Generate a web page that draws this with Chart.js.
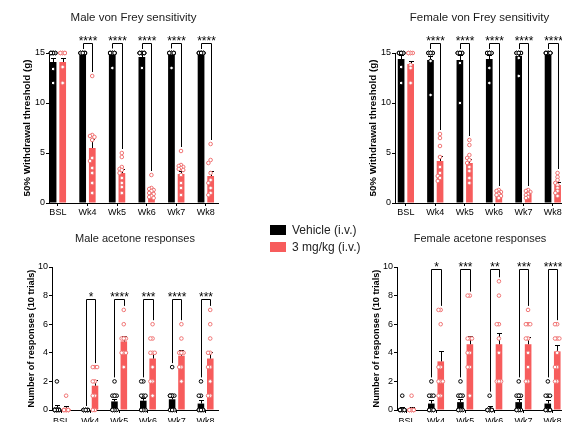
<!DOCTYPE html>
<html>
<head>
<meta charset="utf-8">
<script src="https://cdn.jsdelivr.net/npm/chart.js@4.4.1/dist/chart.umd.min.js"></script>
<style>
  html, body { margin: 0; padding: 0; background: #fff; width: 562px; height: 422px; overflow: hidden; position: relative; }
  .panel { position: absolute; }
  #legend { position: absolute; left: 270px; top: 222px; font: 12px "Liberation Sans", Arial, sans-serif; color: #222; }
  #legend div { height: 16.7px; line-height: 16px; white-space: nowrap; }
  #legend span { display: inline-block; width: 16px; height: 10px; margin-right: 6px; vertical-align: -1px; }
</style>
</head>
<body>
<canvas id="mvf" class="panel" width="230" height="225" style="left:0;top:0"></canvas>
<canvas id="fvf" class="panel" width="230" height="225" style="left:346px;top:0"></canvas>
<canvas id="mac" class="panel" width="230" height="225" style="left:0;top:210px"></canvas>
<canvas id="fac" class="panel" width="230" height="225" style="left:345px;top:210px"></canvas>
<div id="legend"></div>
<script>
const weeks = ['BSL', 'Wk4', 'Wk5', 'Wk6', 'Wk7', 'Wk8'];
const groups = ['Vehicle (i.v.)', '3 mg/kg (i.v.)'];

// Male von Frey sensitivity (g)
const mvfVehMean  = [14.1, 15.0, 14.9, 14.6, 14.9, 15.0];
const mvfVehSem   = [0.4, 0, 0.15, 0.35, 0.15, 0];
const mvfDrugMean = [14.1, 5.5, 3.0, 1.3, 2.9, 2.7];
const mvfDrugSem  = [0.4, 0.9, 0.4, 0.2, 0.35, 0.55];
const mvfVehPts = [
  [15, 15, 15, 15, 15, 15, 15, 15, 13.4, 12.0],
  [15, 15, 15, 15, 15, 15, 15, 15, 15, 15],
  [15, 15, 15, 15, 15, 15, 15, 15, 15, 13.5],
  [15, 15, 15, 15, 15, 15, 15, 15, 15, 13.5],
  [15, 15, 15, 15, 15, 15, 15, 15, 15, 13.5],
  [15, 15, 15, 15, 15, 15, 15, 15, 15, 15]
];
const mvfDrugPts = [
  [15, 15, 15, 15, 15, 15, 13.6, 12.0],
  [12.7, 6.8, 6.7, 6.6, 6.3, 4.5, 4.2, 3.5, 3.0, 2.0, 1.0],
  [5.0, 4.6, 3.6, 3.4, 3.3, 3.0, 2.5, 2.0, 1.6, 1.0],
  [2.8, 1.5, 1.4, 1.3, 1.2, 1.0, 0.9, 0.7, 0.6, 0.5],
  [5.2, 3.8, 3.7, 3.6, 3.5, 3.4, 3.3, 2.8, 2.0, 1.5, 0.8],
  [5.9, 4.3, 4.0, 3.0, 2.3, 2.0, 1.5, 1.0, 0.8]
];
const mvfStars = ['', '****', '****', '****', '****', '****'];

// Female von Frey sensitivity (g)
const fvfVehMean  = [14.4, 14.3, 14.3, 14.4, 14.7, 15.0];
const fvfVehSem   = [0.45, 0.45, 0.5, 0.45, 0.3, 0];
const fvfDrugMean = [13.9, 4.2, 4.0, 1.0, 0.9, 1.8];
const fvfDrugSem  = [0.35, 0.55, 0.45, 0.15, 0.12, 0.3];
const fvfVehPts = [
  [15, 15, 15, 15, 15, 15, 15, 13.6, 12.0],
  [15, 15, 15, 15, 15, 15, 15, 14.2, 10.8],
  [15, 15, 15, 15, 15, 15, 15, 14.0, 10.0],
  [15, 15, 15, 15, 15, 15, 15, 13.5, 12.0],
  [15, 15, 15, 15, 15, 15, 15, 14.5, 12.7],
  [15, 15, 15, 15, 15, 15, 15, 15, 15]
];
const fvfDrugPts = [
  [15, 15, 15, 15, 15, 13.8, 13.5, 12.0],
  [6.9, 6.5, 5.7, 4.6, 3.6, 3.0, 2.7, 2.5, 2.2],
  [6.3, 5.8, 4.8, 4.5, 4.3, 4.0, 3.6, 3.2, 2.5, 2.0],
  [1.3, 1.2, 1.1, 1.0, 0.9, 0.8, 0.7, 0.5],
  [1.3, 1.2, 1.1, 1.0, 0.9, 0.8, 0.6, 0.5],
  [3.0, 2.6, 2.3, 2.0, 1.8, 1.5, 1.2, 1.0, 0.7]
];
const fvfStars = ['', '****', '****', '****', '****', '****'];

// Male acetone responses (of 10 trials)
const macVehMean  = [0.17, 0, 0.6, 0.65, 0.75, 0.45];
const macVehSem   = [0.2, 0, 0.2, 0.2, 0.25, 0.25];
const macDrugMean = [0.1, 1.7, 4.8, 3.6, 3.8, 3.6];
const macDrugSem  = [0.2, 0.4, 0.4, 0.45, 0.4, 0.45];
const macVehPts = [
  [2, 0, 0, 0, 0, 0, 0, 0, 0, 0, 0, 0],
  [0, 0, 0, 0, 0, 0, 0, 0, 0, 0],
  [2, 1, 1, 1, 1, 0, 0, 0, 0, 0],
  [2, 2, 1, 1, 1, 0, 0, 0, 0, 0],
  [3, 1, 1, 1, 1, 1, 0, 0, 0, 0],
  [2, 1, 1, 0, 0, 0, 0, 0, 0, 0]
];
const macDrugPts = [
  [1, 0, 0, 0, 0, 0, 0, 0, 0, 0],
  [3, 3, 3, 2, 2, 1, 1, 0, 0],
  [7, 6, 5, 5, 5, 5, 4, 4, 4, 3],
  [6, 5, 5, 4, 4, 4, 3, 2, 2, 1],
  [6, 5, 4, 4, 4, 4, 3, 3, 2],
  [7, 6, 5, 4, 4, 3, 3, 2, 1, 1]
];
const macStars = ['', '*', '****', '***', '****', '***'];

// Female acetone responses (of 10 trials)
const facVehMean  = [0.1, 0.45, 0.55, 0.1, 0.55, 0.45];
const facVehSem   = [0.1, 0.25, 0.25, 0.15, 0.25, 0.25];
const facDrugMean = [0.1, 3.4, 4.6, 4.6, 4.6, 4.1];
const facDrugSem  = [0.1, 0.75, 0.55, 0.8, 0.5, 0.45];
const facVehPts = [
  [1, 0, 0, 0, 0, 0, 0, 0, 0, 0],
  [2, 1, 1, 1, 0, 0, 0, 0, 0, 0],
  [2, 1, 1, 1, 1, 0, 0, 0, 0, 0],
  [1, 0, 0, 0, 0, 0, 0, 0, 0, 0],
  [2, 1, 1, 1, 1, 0, 0, 0, 0, 0],
  [2, 1, 1, 1, 0, 0, 0, 0, 0, 0]
];
const facDrugPts = [
  [1, 0, 0, 0, 0, 0, 0, 0, 0, 0],
  [7, 7, 6, 3, 3, 2, 2, 2, 1, 1],
  [8, 8, 5, 5, 5, 4, 4, 3, 3, 1],
  [9, 8, 6, 6, 5, 4, 2, 2, 2, 2],
  [7, 6, 6, 6, 5, 5, 4, 3, 2, 2],
  [6, 6, 5, 5, 5, 4, 3, 3, 2, 2]
];
const facStars = ['', '*', '***', '**', '***', '****'];

const FONT = '"Liberation Sans", Arial, sans-serif';
const RED = '#f75c5c';
const PT_RED = '#f07474';
const BAR_OFF = 0.16;

// spread overlapping dots sideways (max 3 columns), like a dot plot
function swarm(vals, cx, tol) {
  const placed = [];
  return vals.map(v => {
    const near = placed.filter(q => Math.abs(q.v - v) < tol);
    let s = [0, -1, 1].find(c => !near.some(q => q.s === c));
    if (s === undefined) s = [0, -1, 1][near.length % 3];
    placed.push({ v, s });
    return { x: cx + s * 0.075, y: v };
  });
}

function dots(pts, side, tol) {
  return pts.flatMap((vals, i) => swarm(vals, i + side * BAR_OFF, tol));
}

function makePanel(id, p) {
  const tol = 3 * p.ymax / p.plotH;
  const decor = {
    id: 'decor',
    afterDatasetDraw(chart, args) {
      if (args.meta.type !== 'bar') return;
      const { ctx } = chart;
      const y = chart.scales.y;
      const means = args.index === 0 ? p.vehMean : p.drugMean;
      const sems = args.index === 0 ? p.vehSem : p.drugSem;
      ctx.save();
      ctx.strokeStyle = '#000';
      ctx.lineWidth = 1;
      args.meta.data.forEach((bar, i) => {
        if (!sems[i]) return;
        const x = Math.round(bar.x) + 0.5;
        const y0 = y.getPixelForValue(means[i]);
        const y1 = Math.round(y.getPixelForValue(means[i] + sems[i])) + 0.5;
        const h = 2.5;
        ctx.beginPath();
        ctx.moveTo(x, y0); ctx.lineTo(x, y1);
        ctx.moveTo(x - h, y1); ctx.lineTo(x + h, y1);
        ctx.stroke();
      });
      ctx.restore();
    },
    afterDraw(chart) {
      const { ctx, chartArea } = chart;
      const y = chart.scales.y;
      ctx.save();
      ctx.fillStyle = '#1a1a1a';
      ctx.font = p.titleSize + 'px ' + FONT;
      ctx.textAlign = 'center';
      ctx.textBaseline = 'middle';
      ctx.fillText(p.title, (chartArea.left + chartArea.right) / 2, p.titleY);

      const veh = chart.getDatasetMeta(0).data;
      const drug = chart.getDatasetMeta(1).data;
      const yTop = Math.round(y.getPixelForValue(p.bracketAt)) + 0.5;
      ctx.strokeStyle = '#000';
      ctx.lineWidth = 1;
      ctx.fillStyle = '#000';
      ctx.font = '12px ' + FONT;
      p.stars.forEach((st, i) => {
        if (!st) return;
        const xl = Math.round(veh[i].x) + 0.5;
        const xr = Math.round(drug[i].x) + 0.5;
        const lMax = Math.max(...p.vehPts[i], p.vehMean[i] + p.vehSem[i]);
        const rMax = Math.max(...p.drugPts[i], p.drugMean[i] + p.drugSem[i]);
        const yl = y.getPixelForValue(lMax) - 4;
        const yr = y.getPixelForValue(rMax) - 4;
        ctx.beginPath();
        ctx.moveTo(xl, yl); ctx.lineTo(xl, yTop); ctx.lineTo(xr, yTop); ctx.lineTo(xr, yr);
        ctx.stroke();
        ctx.fillText(st, (xl + xr) / 2, yTop - 2.2);
      });
      ctx.restore();
    }
  };

  const tickFont = { family: FONT, size: 9 };
  return new Chart(document.getElementById(id), {
    type: 'bar',
    data: {
      datasets: [
        { label: groups[0], data: p.vehMean.map((v, i) => ({ x: i, y: v })), backgroundColor: '#000',
          borderWidth: 0, categoryPercentage: 0.65, barPercentage: 0.7, order: 2 },
        { label: groups[1], data: p.drugMean.map((v, i) => ({ x: i, y: v })), backgroundColor: RED,
          borderWidth: 0, categoryPercentage: 0.65, barPercentage: 0.7, order: 2 },
        { type: 'scatter', data: dots(p.vehPts, -1, tol), pointRadius: 1.8, pointBorderWidth: 1,
          pointBackgroundColor: '#fff', pointBorderColor: '#000', order: 1, clip: false },
        { type: 'scatter', data: dots(p.drugPts, 1, tol), pointRadius: 1.8, pointBorderWidth: 1,
          pointBackgroundColor: '#fff', pointBorderColor: PT_RED, order: 1, clip: false }
      ]
    },
    options: {
      responsive: false,
      animation: false,
      layout: { padding: { top: p.top, right: 12, left: 0, bottom: 0 } },
      plugins: { legend: { display: false }, tooltip: { enabled: false } },
      scales: {
        x: {
          type: 'linear', min: p.xmin, max: p.xmax, offset: false,
          afterBuildTicks: s => { s.ticks = weeks.map((w, i) => ({ value: i })); },
          afterFit: s => { s.height = p.xh; },
          ticks: { callback: v => weeks[v], color: '#000', font: tickFont, padding: p.xpad, maxRotation: 0, autoSkip: false },
          grid: { drawOnChartArea: false, drawTicks: true, tickLength: 3, color: '#000', offset: false },
          border: { color: '#000', width: 1 }
        },
        y: {
          min: 0, max: p.ymax,
          afterFit: s => { s.width = p.yw; },
          ticks: { stepSize: p.step, color: '#000', font: tickFont, padding: 1 },
          grid: { drawOnChartArea: false, drawTicks: true, tickLength: 3, color: '#000' },
          border: { color: '#000', width: 1 },
          title: { display: true, text: p.ytitle, color: '#000',
                   font: { family: FONT, size: p.ytitleSize, weight: 'bold' }, padding: { top: p.ytitlePad, bottom: 0 } }
        }
      }
    },
    plugins: [decor]
  });
}

const vfTitle = '50% Withdrawal threshold (g)';
const acTitle = 'Number of responses (10 trials)';

makePanel('mvf', {
  title: 'Male von Frey sensitivity', titleSize: 11.5, titleY: 18,
  vehMean: mvfVehMean, vehSem: mvfVehSem, drugMean: mvfDrugMean, drugSem: mvfDrugSem,
  vehPts: mvfVehPts, drugPts: mvfDrugPts, stars: mvfStars,
  ymax: 15, step: 5, top: 53, xh: 22, yw: 49, plotH: 150, xmin: -0.30, xmax: 5.41, xpad: 1,
  bracketAt: 16.0, ytitle: vfTitle, ytitleSize: 9.8, ytitlePad: 21
});
makePanel('fvf', {
  title: 'Female von Frey sensitivity', titleSize: 11.5, titleY: 18,
  vehMean: fvfVehMean, vehSem: fvfVehSem, drugMean: fvfDrugMean, drugSem: fvfDrugSem,
  vehPts: fvfVehPts, drugPts: fvfDrugPts, stars: fvfStars,
  ymax: 15, step: 5, top: 53, xh: 22, yw: 49, plotH: 150, xmin: -0.37, xmax: 5.38, xpad: 1,
  bracketAt: 16.0, ytitle: vfTitle, ytitleSize: 9.8, ytitlePad: 21
});
makePanel('mac', {
  title: 'Male acetone responses', titleSize: 11, titleY: 29.3,
  vehMean: macVehMean, vehSem: macVehSem, drugMean: macDrugMean, drugSem: macDrugSem,
  vehPts: macVehPts, drugPts: macDrugPts, stars: macStars,
  ymax: 10, step: 2, top: 57, xh: 25, yw: 52, plotH: 143, xmin: -0.33, xmax: 5.43, xpad: 3,
  bracketAt: 7.75, ytitle: acTitle, ytitleSize: 9.2, ytitlePad: 26
});
makePanel('fac', {
  title: 'Female acetone responses', titleSize: 11, titleY: 29.3,
  vehMean: facVehMean, vehSem: facVehSem, drugMean: facDrugMean, drugSem: facDrugSem,
  vehPts: facVehPts, drugPts: facDrugPts, stars: facStars,
  ymax: 10, step: 2, top: 57, xh: 25, yw: 52, plotH: 143, xmin: -0.34, xmax: 5.36, xpad: 3,
  bracketAt: 9.85, ytitle: acTitle, ytitleSize: 9.2, ytitlePad: 26
});

document.getElementById('legend').innerHTML = groups.map((g, i) =>
  '<div><span style="background:' + (i === 0 ? '#000' : RED) + '"></span>' + g + '</div>').join('');
</script>
</body>
</html>
